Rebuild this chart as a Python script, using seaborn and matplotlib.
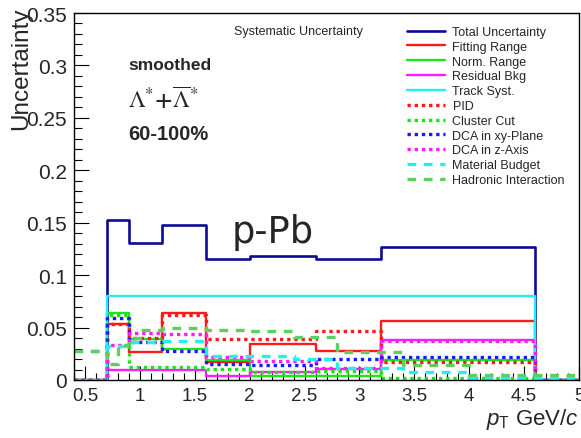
import numpy as np
import pandas as pd
import matplotlib
matplotlib.use("Agg")
import matplotlib.pyplot as plt
import seaborn as sns
from matplotlib.ticker import MultipleLocator
from matplotlib.lines import Line2D

# ---------------- data ----------------
edges = [0.4, 0.7, 0.9, 1.2, 1.6, 2.0, 2.6, 3.2, 4.6, 5.0]
fine_edges = [0.4, 0.7, 0.8, 0.9, 1.0, 1.2, 1.6, 2.0, 2.4, 2.8, 3.4, 4.0, 5.0]

total_unc = [0, 0.153, 0.131, 0.148, 0.115, 0.118, 0.115, 0.127, 0]
fitting_range = [0, 0.053, 0.027, 0.0635, 0.017, 0.0345, 0.0275, 0.056, 0]
norm_range = [0, 0.0635, 0.039, 0.030, 0.0186, 0.0040, 0.0038, 0.0195, 0]
residual_bkg = [0, 0.0099, 0.0099, 0.0099, 0.0040, 0.0072, 0.0105, 0.038, 0]
track_syst = [0, 0.080, 0.080, 0.080, 0.080, 0.080, 0.080, 0.080, 0]
pid = [0, 0.053, 0.040, 0.062, 0.0395, 0.0395, 0.047, 0.0176, 0]
cluster_cut = [0, 0.062, 0.012, 0.012, 0.0105, 0.0072, 0.009, 0.0018, 0]
dca_xy = [0, 0.059, 0.036, 0.0276, 0.0154, 0.0147, 0.020, 0.0218, 0]
dca_z = [0, 0.033, 0.0445, 0.044, 0.0218, 0.018, 0.011, 0.037, 0]
material_budget = [0.028, 0.032, 0.032, 0.036, 0.036, 0.037, 0.023, 0.023, 0.020, 0.0115, 0.008, 0.002]
hadronic = [0.028, 0.015, 0.033, 0.040, 0.048, 0.050, 0.048, 0.047, 0.041, 0.027, 0.0145, 0.005]

labels = ["Total Uncertainty", "Fitting Range", "Norm. Range", "Residual Bkg",
          "Track Syst.", "PID", "Cluster Cut", "DCA in xy-Plane", "DCA in z-Axis",
          "Material Budget", "Hadronic Interaction"]
x_ticks = [0.5, 1, 1.5, 2, 2.5, 3, 3.5, 4, 4.5, 5]
x_tick_labels = ["0.5", "1", "1.5", "2", "2.5", "3", "3.5", "4", "4.5", "5"]
y_ticks = [0, 0.05, 0.1, 0.15, 0.2, 0.25, 0.3, 0.35]
y_tick_labels = ["0", "0.05", "0.1", "0.15", "0.2", "0.25", "0.3", "0.35"]

series = [
    (total_unc, edges), (fitting_range, edges), (norm_range, edges), (residual_bkg, edges),
    (track_syst, edges), (pid, edges), (cluster_cut, edges), (dca_xy, edges), (dca_z, edges),
    (material_budget, fine_edges), (hadronic, fine_edges),
]

# ---------------- styles ----------------
DOT = (0, (1.0, 1.15))
DASH = (0, (2.6, 2.3))
styles = [
    dict(color="#0b0b96", lw=1.9, ls="-"),
    dict(color="#ff1a1a", lw=1.7, ls="-"),
    dict(color="#19e619", lw=1.7, ls="-"),
    dict(color="#ff1aff", lw=1.7, ls="-"),
    dict(color="#22f0f0", lw=1.7, ls="-"),
    dict(color="#ff1a1a", lw=2.4, ls=DOT),
    dict(color="#19e619", lw=2.4, ls=DOT),
    dict(color="#1a1aff", lw=2.4, ls=DOT),
    dict(color="#ff1aff", lw=2.4, ls=DOT),
    dict(color="#22f0f0", lw=2.4, ls=DASH),
    dict(color="#5ccf5c", lw=2.4, ls=DASH),
]

sns.set_style("ticks")
plt.rcParams["font.family"] = ["Liberation Sans", "DejaVu Sans"]
plt.rcParams["mathtext.fontset"] = "custom"
plt.rcParams["mathtext.rm"] = "Liberation Sans"
plt.rcParams["mathtext.it"] = "Liberation Sans:italic"
plt.rcParams["mathtext.bf"] = "Liberation Sans:bold"

W, H = 581, 439
fig = plt.figure(figsize=(W / 100, H / 100), dpi=100)
fig.patch.set_facecolor("white")
ax = fig.add_axes([74 / W, 1 - 381 / H, (579 - 74) / W, (381 - 14) / H])
ax.set_facecolor("white")

handles = []
for (vals, e), st, lab in zip(series, styles, labels):
    df = pd.DataFrame({"pt": e, "unc": list(vals) + [vals[-1]]})
    sns.lineplot(data=df, x="pt", y="unc", ax=ax, estimator=None, sort=False,
                 drawstyle="steps-post", color=st["color"], linewidth=st["lw"],
                 linestyle=st["ls"])
    handles.append(Line2D([0], [0], color=st["color"], lw=st["lw"], ls=st["ls"]))

ax.set_xlim(0.4, 5.0)
ax.set_ylim(0, 0.35)
ax.set_xticks(x_ticks)
ax.set_xticklabels(x_tick_labels)
ax.set_yticks(y_ticks)
ax.set_yticklabels(y_tick_labels)
ax.xaxis.set_minor_locator(MultipleLocator(0.1))
ax.yaxis.set_minor_locator(MultipleLocator(0.01))
ax.tick_params(axis="both", which="both", direction="in", top=False, right=False,
               color="black", width=0.8)
ax.tick_params(axis="x", which="major", length=10, pad=5, labelsize=13.5)
ax.tick_params(axis="x", which="minor", length=5)
ax.tick_params(axis="y", which="major", length=11, pad=5, labelsize=15)
ax.tick_params(axis="y", which="minor", length=5.5)
for sp in ax.spines.values():
    sp.set_visible(True)
    sp.set_color("black")
    sp.set_linewidth(1.0)
ax.set_xlabel("")
ax.set_ylabel("")

fig.text(21 / W, 1 - 7 / H, "Uncertainty", rotation=90, ha="center", va="top",
         fontsize=17.5)
fig.text(579 / W, 1 - 425 / H, r"$\mathit{p}_{\mathrm{T}}$ GeV/$\mathit{c}$",
         ha="right", va="baseline", fontsize=16)

fig.text(298 / W, 1 - 32 / H, "Systematic Uncertainty", ha="center", va="center",
         fontsize=9)
fig.text(128 / W, 1 - 70.5 / H, "smoothed", ha="left", va="baseline",
         fontsize=12.5, fontweight="bold")
fig.text(128 / W, 1 - 108 / H, r"$\Lambda^{*}\mathbf{+}\overline{\Lambda}^{*}$",
         ha="left", va="baseline", fontsize=17, math_fontfamily="stix")
fig.text(128 / W, 1 - 140 / H, "60-100%", ha="left", va="baseline",
         fontsize=14.5, fontweight="bold")
fig.text(232 / W, 1 - 243 / H, "p-Pb", ha="left", va="baseline",
         fontsize=26.5, family="DejaVu Sans")

fig.legend(handles, labels, loc="upper left",
           bbox_to_anchor=(407 / W, 1 - 27 / H), bbox_transform=fig.transFigure,
           frameon=False, borderaxespad=0, borderpad=0, handlelength=3.0,
           handletextpad=0.64, labelspacing=0.225, fontsize=9)

fig.savefig("out.png", dpi=100, facecolor="white")
